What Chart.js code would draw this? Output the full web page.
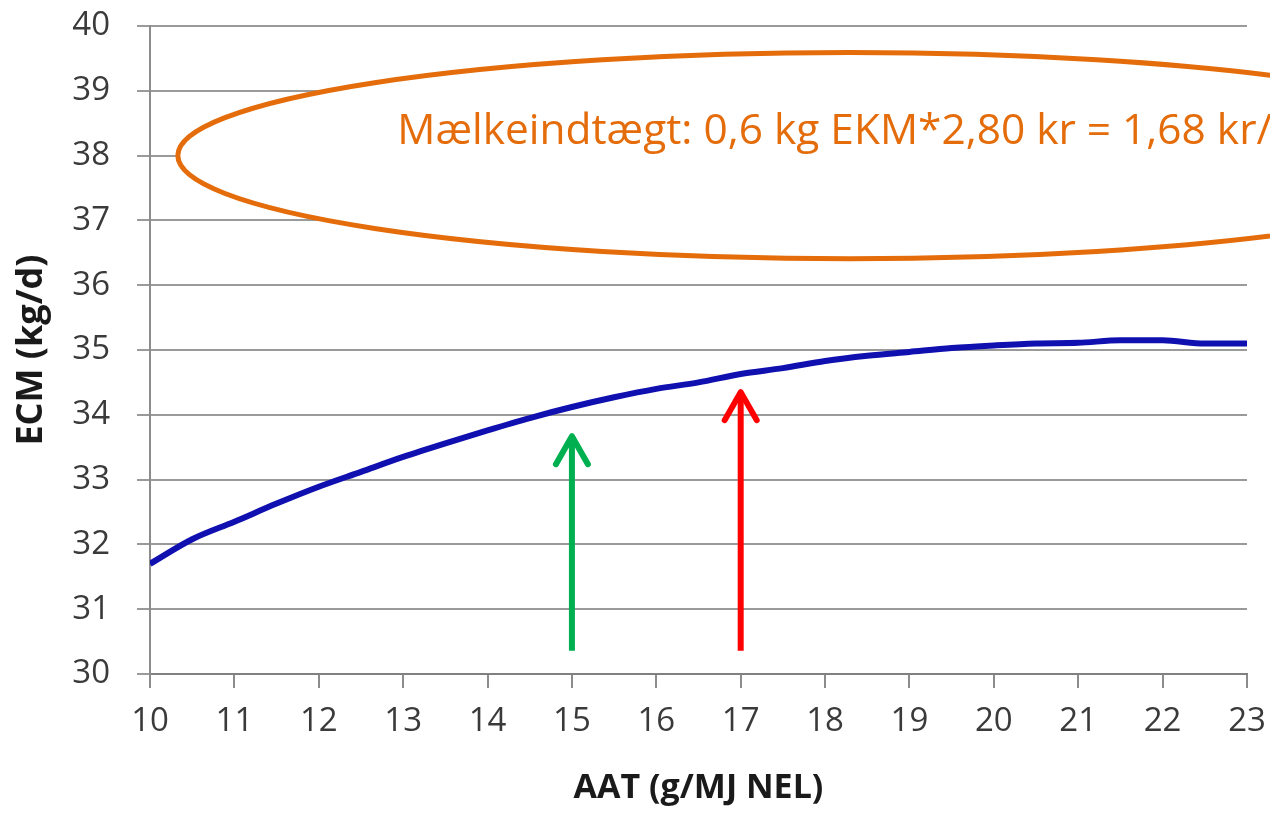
<!DOCTYPE html>
<html>
<head>
<meta charset="utf-8">
<script src="https://cdn.jsdelivr.net/npm/chart.js@4.4.1/dist/chart.umd.min.js"></script>
<style>
  html, body { margin: 0; padding: 0; background: #fff; overflow: hidden; }
  #wrap { width: 1270px; height: 813px; }
</style>
</head>
<body>
<div id="wrap"><canvas id="ecmChart" width="1270" height="813"></canvas></div>
<script>
// AAT (g/MJ NEL) -> ECM (kg/d)
var aat = [10, 10.5, 11, 11.5, 12, 12.5, 13, 13.5, 14, 14.5, 15, 15.5, 16, 16.5,
  17, 17.5, 18, 18.5, 19, 19.5, 20, 20.5, 21, 21.5, 22, 22.5, 23];
var ecm = [31.7, 32.08, 32.35, 32.63, 32.89, 33.12, 33.35, 33.56, 33.76, 33.95, 34.12, 34.27, 34.4, 34.5,
  34.63, 34.72, 34.83, 34.91, 34.97, 35.03, 35.07, 35.1, 35.11, 35.15, 35.15, 35.1, 35.1];

var xTicks = [10, 11, 12, 13, 14, 15, 16, 17, 18, 19, 20, 21, 22, 23];
var yTicks = [30, 31, 32, 33, 34, 35, 36, 37, 38, 39, 40];

// arrows (AAT value, start ECM, tip ECM)
var arrowX = [15, 17];
var arrowFrom = [30.36, 30.36];
var arrowTo = [33.67, 34.35];
var arrowColors = ["#00b050", "#ff0000"];

// note in the ellipse
var noteText = "Mælkeindtægt: 0,6 kg EKM*2,80 kr = 1,68 kr/dag";
var noteFitText = "Mælkeindtægt: 0,6 kg EKM*2,80 kr = 1,68 kr/";
var ellipseCenter = [18.29, 38.0];
var ellipseRadius = [7.96, 1.59];

var points = aat.map(function (x, i) {
  return { x: x, y: ecm[i] };
});

var annotations = {
  id: "annotations",
  afterDatasetsDraw: function (chart) {
    var c = chart.ctx;
    var xs = chart.scales.x;
    var ys = chart.scales.y;

    // ellipse with white fill
    var cx = xs.getPixelForValue(ellipseCenter[0]);
    var cy = ys.getPixelForValue(ellipseCenter[1]);
    var rx = xs.getPixelForValue(ellipseCenter[0] + ellipseRadius[0]) - cx;
    var ry = cy - ys.getPixelForValue(ellipseCenter[1] + ellipseRadius[1]);
    c.save();
    c.beginPath();
    c.ellipse(cx, cy, rx, ry, 0, 0, Math.PI * 2);
    c.fillStyle = "#ffffff";
    c.fill();
    c.lineWidth = 5;
    c.strokeStyle = "#e46c0a";
    c.stroke();

    // text
    c.font = "40px 'Open Sans'";
    var w = c.measureText(noteFitText).width;
    var size = 40 * 875 / w;
    c.font = size + "px 'Open Sans'";
    c.fillStyle = "#e46c0a";
    c.textBaseline = "alphabetic";
    c.textAlign = "left";
    c.fillText(noteText, xs.getPixelForValue(12.93), cy - 12);
    c.restore();

    // arrows
    for (var i = 0; i < arrowX.length; i++) {
      var ax = xs.getPixelForValue(arrowX[i]);
      var y0 = ys.getPixelForValue(arrowFrom[i]);
      var y1 = ys.getPixelForValue(arrowTo[i]);
      c.save();
      c.strokeStyle = arrowColors[i];
      c.lineWidth = 6;
      c.lineCap = "butt";
      c.beginPath();
      c.moveTo(ax, y0);
      c.lineTo(ax, y1 + 2);
      c.stroke();
      c.lineCap = "round";
      c.lineJoin = "round";
      c.beginPath();
      c.moveTo(ax - 16, y1 + 28);
      c.lineTo(ax, y1);
      c.lineTo(ax + 16, y1 + 28);
      c.stroke();
      c.restore();
    }
  },
};

var ctx = document.getElementById("ecmChart").getContext("2d");
var ecmChart = new Chart(ctx, {
  type: "line",
  data: {
    datasets: [
      {
        label: "ECM",
        data: points,
        borderColor: "#1010b0",
        borderWidth: 6,
        pointRadius: 0,
        fill: false,
        cubicInterpolationMode: "monotone",
      },
    ],
  },
  options: {
    responsive: false,
    animation: false,
    layout: { padding: { top: 26, right: 23, left: 0, bottom: 0 } },
    plugins: {
      legend: { display: false },
      tooltip: { enabled: false },
    },
    scales: {
      x: {
        type: "linear",
        min: 10,
        max: 23,
        afterFit: function (scale) {
          scale.height = 139;
          scale.paddingLeft = 0;
          scale.paddingRight = 0;
        },
        afterBuildTicks: function (scale) {
          scale.ticks = xTicks.map(function (v) { return { value: v }; });
        },
        grid: {
          drawOnChartArea: false,
          drawTicks: true,
          tickLength: 14,
          color: "#8c8c8c",
          lineWidth: 2,
        },
        border: { color: "#808080", width: 2 },
        ticks: {
          padding: 14,
          color: "#3a3a3a",
          font: { family: "'Open Sans'", size: 33 },
          maxRotation: 0,
        },
        title: {
          display: true,
          text: "AAT (g/MJ NEL)",
          color: "#1a1a1a",
          font: { family: "'Open Sans'", size: 34, weight: "bold" },
          padding: { top: 3 },
        },
      },
      y: {
        min: 30,
        max: 40,
        afterFit: function (scale) {
          scale.width = 150;
          scale.paddingTop = 0;
          scale.paddingBottom = 0;
        },
        afterBuildTicks: function (scale) {
          scale.ticks = yTicks.map(function (v) { return { value: v }; });
        },
        grid: {
          color: "#9a9a9a",
          lineWidth: 2,
          tickLength: 13,
        },
        border: { color: "#8c8c8c", width: 2 },
        ticks: {
          padding: 27,
          color: "#3a3a3a",
          font: { family: "'Open Sans'", size: 33 },
        },
        title: {
          display: true,
          text: "ECM (kg/d)",
          color: "#1a1a1a",
          font: { family: "'Open Sans'", size: 36, weight: "bold" },
          padding: { top: 10 },
        },
      },
    },
  },
  plugins: [annotations],
});
</script>
</body>
</html>
